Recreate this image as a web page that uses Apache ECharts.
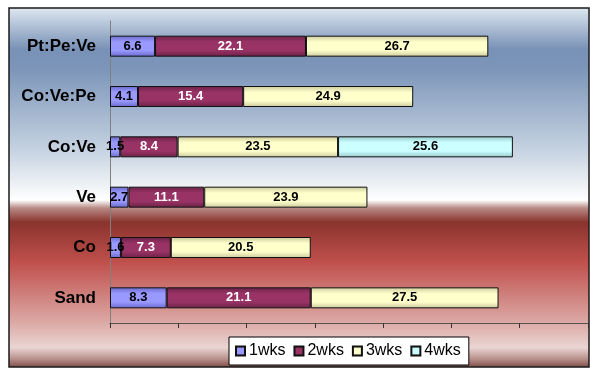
<!DOCTYPE html>
<html><head><meta charset="utf-8">
<script src="https://cdn.jsdelivr.net/npm/echarts@6/dist/echarts.min.js"></script>
<style>html,body{margin:0;padding:0;background:#fff}#c{width:590px;height:370px}</style>
</head><body><div id="c"></div>
<script>
const categories = ['Sand', 'Co', 'Ve', 'Co:Ve', 'Co:Ve:Pe', 'Pt:Pe:Ve'];
const seriesNames = ['1wks', '2wks', '3wks', '4wks'];
const wk1 = [8.3, 1.6, 2.7, 1.5, 4.1, 6.6];
const wk2 = [21.1, 7.3, 11.1, 8.4, 15.4, 22.1];
const wk3 = [27.5, 20.5, 23.9, 23.5, 24.9, 26.7];
const wk4 = [null, null, null, 25.6, null, null];

const values = [wk1, wk2, wk3, wk4];
const baseColors = ['#9999ff', '#993366', '#ffffcc', '#ccffff'];
const edgeColors = ['#6a6acc', '#6a2146', '#c9c99c', '#96caca'];
const labelColors = ['#000', '#fff', '#000', '#000'];

function barFill(i) {
  return new echarts.graphic.LinearGradient(0, 0, 0, 1, [
    {offset: 0, color: edgeColors[i]},
    {offset: 0.3, color: baseColors[i]},
    {offset: 0.7, color: baseColors[i]},
    {offset: 1, color: edgeColors[i]}
  ]);
}

const chart = echarts.init(document.getElementById('c'), null, {renderer: 'canvas'});
const F = '"Liberation Sans", Arial, sans-serif';

chart.setOption({
  animation: false,
  graphic: [{
    type: 'rect', z: -10, silent: true,
    shape: {x: 9, y: 8, width: 580, height: 359},
    style: {
      fill: new echarts.graphic.LinearGradient(0, 0, 0, 1, [
        {offset: 0, color: '#dfe8f1'},
        {offset: 0.117, color: '#7891b6'},
        {offset: 0.17, color: '#7c95b9'},
        {offset: 0.395, color: '#c5d2e1'},
        {offset: 0.507, color: '#f4f6f8'},
        {offset: 0.535, color: '#ffffff'},
        {offset: 0.557, color: '#b88a85'},
        {offset: 0.596, color: '#8a332d'},
        {offset: 0.708, color: '#c0504c'},
        {offset: 0.869, color: '#dba6a2'},
        {offset: 0.944, color: '#e9d5d2'},
        {offset: 0.975, color: '#b9918c'},
        {offset: 1, color: '#7d4a45'}
      ]),
      stroke: '#1a1a1a', lineWidth: 1.5
    }
  }],
  grid: {left: 110, right: 2, top: 21, bottom: 47, containLabel: false},
  legend: {
    data: seriesNames,
    left: 229, top: 337, width: 240, height: 30,
    padding: [6, 8, 6, 6],
    backgroundColor: '#fff', borderColor: '#000', borderWidth: 1,
    itemWidth: 9, itemHeight: 9, itemGap: 8,
    icon: 'rect',
    textStyle: {fontFamily: F, fontSize: 16, color: '#000', padding: [0, 0, 0, -1]}
  },
  xAxis: {
    type: 'value', min: 0, max: 70, interval: 10,
    axisLine: {show: true, lineStyle: {color: '#555', width: 1}},
    axisTick: {show: true, length: 5, lineStyle: {color: '#333'}},
    axisLabel: {show: false},
    splitLine: {show: false}
  },
  yAxis: {
    type: 'category', data: categories,
    axisLine: {show: true, lineStyle: {color: '#808080', width: 1}},
    axisTick: {show: false},
    axisLabel: {fontFamily: F, fontSize: 17, fontWeight: 'bold', color: '#000', margin: 14}
  },
  series: values.map((v, i) => ({
    name: seriesNames[i], type: 'bar', stack: 'total', barWidth: 21,
    data: v,
    itemStyle: {color: barFill(i), borderColor: '#111', borderWidth: 1},
    label: {
      show: true, position: 'inside',
      fontFamily: F, fontSize: 13, fontWeight: 'bold', color: labelColors[i],
      formatter: p => p.value == null ? '' : Number(p.value).toFixed(1)
    }
  }))
});
</script></body></html>
